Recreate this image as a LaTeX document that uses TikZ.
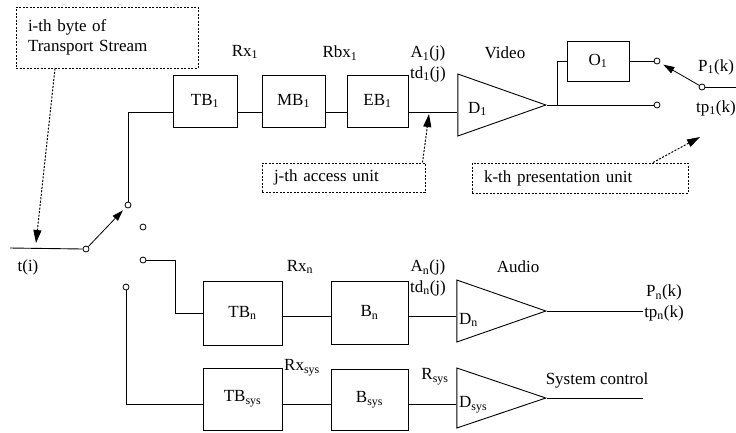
\documentclass[tikz,border=0pt]{standalone}
\usepackage{fontspec}
\setmainfont{Liberation Serif}
\usetikzlibrary{arrows.meta,shapes.geometric}
\newcommand{\ix}[1]{\textsubscript{#1}}
\tikzset{
  blk/.style  = {draw, line width=0.9pt, minimum width=64pt, minimum height=52pt, inner sep=0pt},
  % for the triangle: minimum width = base, minimum height = depth to apex
  amp/.style  = {draw, line width=0.9pt, isosceles triangle, isosceles triangle stretches,
                 shape border rotate=0, minimum width=62pt, minimum height=88pt,
                 inner sep=0pt, anchor=apex},
  pin/.style  = {circle, draw, line width=0.8pt, minimum size=6pt, inner sep=0pt, fill=white},
  wire/.style = {line width=0.9pt},
  note/.style = {draw, dash pattern=on 2pt off 1.5pt, line width=1pt, align=left,
                 inner xsep=12pt, inner ysep=0pt},
  ptr/.style  = {dash pattern=on 2pt off 1.5pt, line width=1pt,
                 -{Triangle[length=13pt,width=8pt]}},
  sw/.style   = {line width=0.8pt, -{Triangle[length=11pt,width=7pt]}, shorten >=4pt},
  lbl/.style  = {inner sep=0pt, align=center},
}

\begin{document}
\begin{tikzpicture}[x=1pt, y=-1pt, font=\fontsize{17}{20.5}\selectfont]
  \useasboundingbox (0,0) rectangle (736,432);
  \coordinate (r1) at (0,112);
  \coordinate (rn) at (0,316);
  \coordinate (rs) at (0,404);

  % video path
  \node[blk] (tb1) at (205,101) {TB\ix{1}};
  \node[blk, minimum width=63pt] (mb1) at (293.5,101) {MB\ix{1}};
  \node[blk, minimum width=61pt] (eb1) at (377.5,101) {EB\ix{1}};
  \node[amp] (d1) at (547,105) {};
  \node[lbl, anchor=west] (d1t) at (468,109) {D\ix{1}};
  \node[blk, minimum width=62pt, minimum height=40pt] (o1) at (598,61) {O\ix{1}};

  % audio path
  \node[blk, minimum width=79pt, minimum height=64pt] (tbn) at (242.5,313) {TB\ix{n}};
  \node[blk, minimum width=77pt, minimum height=63pt] (bn) at (369.5,312.5) {B\ix{n}};
  \node[amp, minimum height=89pt] (dn) at (547,311) {};
  \node[lbl, anchor=west] (dnt) at (459,320) {D\ix{n}};

  % system path
  \node[blk, minimum width=79pt, minimum height=62pt] (tbs) at (242.5,399) {TB\ix{sys}};
  \node[blk, minimum width=77pt, minimum height=61pt] (bs) at (369.5,399.5) {B\ix{sys}};
  \node[amp, minimum width=60pt, minimum height=89pt] (ds) at (547,398) {};
  \node[lbl, anchor=west] (dst) at (459,405) {D\ix{sys}};

  % switch contacts
  \node[pin] (s0) at (86,249) {};
  \node[pin] (s1) at (128,205) {};
  \node[pin] (s2) at (143,227) {};
  \node[pin] (s3) at (143,260) {};
  \node[pin] (s4) at (126,287) {};
  \node[pin] (q1) at (657,61) {};
  \node[pin] (q2) at (657,105) {};
  \node[pin] (q0) at (702,87) {};
  \coordinate (tin) at (10,248);
  \coordinate (tout) at (736,87);
  \coordinate (br) at (557,105);
  \coordinate (pn) at (643,311);
  \coordinate (ps) at (643,398);

  \draw[wire] (tin) -- (s0.west);
  \draw[sw] (s0) -- (s1);
  \draw[wire] (s1.north) |- (tb1.west |- r1);
  \draw[wire] (tb1.east |- r1) -- (mb1.west |- r1);
  \draw[wire] (mb1.east |- r1) -- (eb1.west |- r1);
  \draw[wire] (eb1.east |- r1) -- (d1.west |- r1);
  \draw[wire] (d1.apex) -- (q2.west);
  \draw[wire] (br) |- (o1.west);
  \draw[wire] (o1.east) -- (q1.west);
  \draw[sw] (q0) -- (q1);
  \draw[wire] (q0.east) -- (tout);

  \draw[wire] (s3.east) -- ++(29,0) |- (tbn.west);
  \draw[wire] (tbn.east |- rn) -- (bn.west |- rn);
  \draw[wire] (bn.east |- rn) -- (dn.west |- rn);
  \draw[wire] (dn.apex) -- (pn);

  \draw[wire] (s4.south) |- (tbs.west |- rs);
  \draw[wire] (tbs.east |- rs) -- (bs.west |- rs);
  \draw[wire] (bs.east |- rs) -- (ds.west |- rs);
  \draw[wire] (ds.apex) -- (ps);

  % labels
  \node[lbl] (ti) at (28,267) {t(i)};
  \node[lbl] (rx1) at (245,52) {Rx\ix{1}};
  \node[lbl] (rbx1) at (340,53) {Rbx\ix{1}};
  \node[lbl] (a1) at (428,64) {A\ix{1}(j)\\td\ix{1}(j)};
  \node[lbl] (vid) at (505,53) {Video};
  \node[lbl, anchor=west] (p1) at (698,67) {P\ix{1}(k)};
  \node[lbl, anchor=west] (tp1) at (696,108) {tp\ix{1}(k)};
  \node[lbl] (rxn) at (300,267) {Rx\ix{n}};
  \node[lbl] (an) at (428,278) {A\ix{n}(j)\\td\ix{n}(j)};
  \node[lbl] (aud) at (518,267) {Audio};
  \node[lbl] (pnl) at (664,303) {P\ix{n}(k)\\tp\ix{n}(k)};
  \node[lbl] (rxs) at (302,368) {Rx\ix{sys}};
  \node[lbl] (rsy) at (435,377) {R\ix{sys}};
  \node[lbl] (sys) at (597,380) {System control};

  % callouts
  \node[note, text width=158pt, minimum height=61pt] (n1) at (107,37.5) {i-th byte of\\Transport Stream};
  \node[note, text width=139pt, minimum height=29pt] (n2) at (343.5,177.5) {j-th access unit};
  \node[note, text width=192pt, minimum height=30pt] (n3) at (580,178) {k-th presentation unit};
  \coordinate (tip1) at (36,243);
  \coordinate (tip2) at (429,114);
  \coordinate (tip3) at (700,137);
  \draw[ptr] ([xshift=-52pt]n1.south) -- (tip1);
  \draw[ptr] ([xshift=-3pt]n2.north east) -- (tip2);
  \draw[ptr] ([xshift=73pt]n3.north) -- (tip3);
\end{tikzpicture}
\end{document}
